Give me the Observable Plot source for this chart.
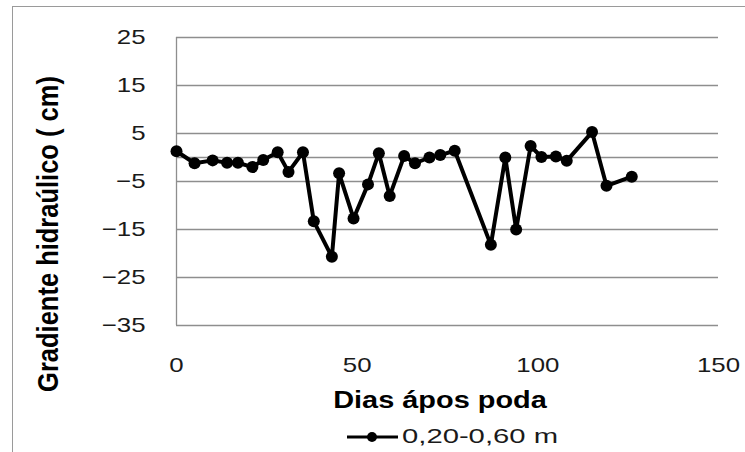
<!DOCTYPE html>
<html>
<head>
<meta charset="utf-8">
<script src="https://cdn.jsdelivr.net/npm/d3@7"></script>
<script src="https://cdn.jsdelivr.net/npm/@observablehq/plot@0.6"></script>
<style>
  html, body { margin: 0; padding: 0; background: #fff; }
  body { width: 745px; height: 452px; overflow: hidden; position: relative; font-family: "Liberation Sans", Arial, sans-serif; }
  #frame { position: absolute; left: 12px; top: 6px; width: 760px; height: 470px; border-left: 1.5px solid #9a9a9a; border-top: 1.5px solid #9a9a9a; pointer-events: none; z-index: 2; }
  #chart svg { display: block; }
  #legend { display: block; }
</style>
</head>
<body>
<div id="frame"></div>
<div id="chart"></div>
<div id="legendWrap"></div>
<script>
const days = [0, 5, 10, 14, 17, 21, 24, 28, 31, 35, 38, 43, 45, 49, 53, 56, 59, 63, 66, 70, 73, 77, 87, 91, 94, 98, 101, 105, 108, 115, 119, 126];
const gradient = [1.3, -1.2, -0.6, -1.1, -1.1, -2.0, -0.5, 1.1, -3.0, 1.1, -13.3, -20.7, -3.3, -12.7, -5.6, 0.9, -8.0, 0.3, -1.2, 0.0, 0.5, 1.4, -18.2, 0.0, -15.0, 2.4, 0.1, 0.2, -0.7, 5.3, -5.9, -4.0];
const xTicks = [0, 50, 100, 150];
const yTicks = [-35, -25, -15, -5, 5, 15, 25];
const seriesName = "0,20-0,60 m";
const xTitle = "Dias ápos poda";
const yTitle = "Gradiente hidraúlico ( cm)";

const data = days.map((d, i) => ({day: d, value: gradient[i]}));
const gray = "#8e8e8e";
const stretch = 1.23;
const fontFam = "'Liberation Sans', Arial, sans-serif";

const chart = Plot.plot({
  width: 745,
  height: 420,
  marginLeft: 176,
  marginRight: 27,
  marginTop: 37,
  marginBottom: 95,
  style: {fontFamily: fontFam, fontSize: "21px", color: "#1a1a1a", background: "#fff"},
  x: {domain: [0, 150], ticks: xTicks, tickSize: 0, tickPadding: 32, label: null},
  y: {domain: [-35, 25], ticks: yTicks, tickSize: 0, tickPadding: 31, label: null},
  marks: [
    Plot.gridY(yTicks, {stroke: gray, strokeOpacity: 1, strokeWidth: 1.3}),
    Plot.ruleY([0], {stroke: gray, strokeWidth: 1.3}),
    Plot.ruleX([0], {y1: -35, y2: 25, stroke: gray, strokeWidth: 1.3}),
    Plot.line(data, {x: "day", y: "value", stroke: "#000", strokeWidth: 4, strokeLinejoin: "round"}),
    Plot.dot(data, {x: "day", y: "value", r: 6, fill: "#000", stroke: "none"})
  ]
});

// horizontal stretch of all tick texts (the reference is widened horizontally)
d3.select(chart).selectAll("text").each(function() {
  const t = d3.select(this);
  const tr = t.attr("transform");
  if (tr && /^translate\([^)]*\)/.test(tr)) {
    t.attr("transform", tr.replace(/^(translate\([^)]*\))/, `$1 scale(${stretch},1)`));
  } else {
    const x = +(t.attr("x") || 0), y = +(t.attr("y") || 0);
    t.attr("x", null).attr("y", null);
    t.attr("transform", `translate(${x},${y}) scale(${stretch},1)` + (tr ? " " + tr : ""));
  }
});

// axis titles
const svg = d3.select(chart);
svg.append("text")
  .attr("transform", `translate(440,408) scale(${stretch},1)`)
  .attr("text-anchor", "middle")
  .attr("font-family", fontFam).attr("font-weight", "bold").attr("font-size", 23.5).attr("fill", "#000")
  .text(xTitle);
svg.append("text")
  .attr("transform", `translate(47,234) scale(1.15,1) rotate(-90)`)
  .attr("text-anchor", "middle").attr("dy", "0.36em")
  .attr("font-family", fontFam).attr("font-weight", "bold").attr("font-size", 25.5).attr("fill", "#000")
  .text(yTitle);

document.getElementById("chart").appendChild(chart);

// legend below the chart
const lg = d3.select("#legendWrap").append("svg").attr("id", "legend").attr("width", 745).attr("height", 32);
lg.append("line").attr("x1", 347).attr("x2", 398).attr("y1", 17).attr("y2", 17).attr("stroke", "#000").attr("stroke-width", 3);
lg.append("circle").attr("cx", 372).attr("cy", 17).attr("r", 5).attr("fill", "#000");
lg.append("text").attr("x", 402).attr("y", 23).attr("font-size", 21)
  .attr("font-family", fontFam).attr("fill", "#1a1a1a")
  .attr("textLength", 156).attr("lengthAdjust", "spacingAndGlyphs").text(seriesName);
</script>
</body>
</html>
